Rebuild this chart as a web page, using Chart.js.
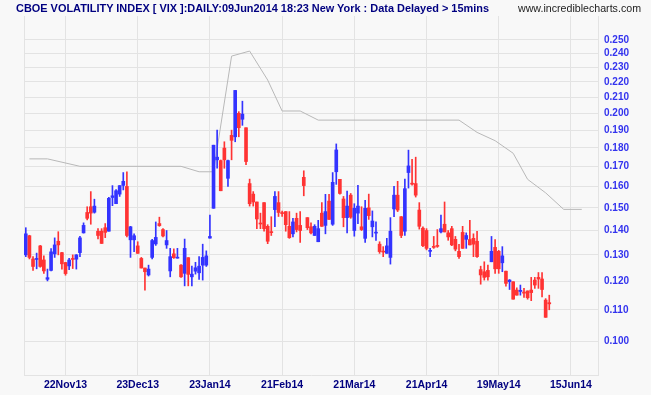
<!DOCTYPE html>
<html><head><meta charset="utf-8">
<script src="https://cdn.jsdelivr.net/npm/chart.js@4.4.1/dist/chart.umd.min.js"></script>
<style>
html,body{margin:0;padding:0;background:#f8f8f8;}
#wrap{position:relative;width:651px;height:395px;overflow:hidden;background:#f8f8f8;}
canvas{position:absolute;left:0;top:0;}
.t{position:absolute;white-space:nowrap;font-family:"Liberation Sans",Arial,sans-serif;font-size:11px;line-height:11px;transform-origin:0 0;}
#title{left:16px;top:3px;font-weight:bold;color:#000080;}
#site{left:518px;top:3px;color:#222;}
</style></head><body>
<div id="wrap"><canvas id="c" width="651" height="395"></canvas>
<div id="title" class="t">CBOE VOLATILITY INDEX [ VIX ]:DAILY:09Jun2014 18:23 New York : Data Delayed &gt; 15mins</div>
<div id="site" class="t">www.incrediblecharts.com</div></div>
<script>
// ---- data (VIX / 100, daily, 07Nov2013 .. 09Jun2014) ----
const open = [
.1300,.1378,.1284,.1282,.1336,.1280,.1207,.1240,.1304,.1355,
.1309,.1270,.1257,.1286,.1283,.1309,.1390,.1479,.1505,.1480,
.1397,.1397,.1412,.1397,.1548,.1519,.1564,.1606,.1601,.1361,
.1361,.1336,.1286,.1249,.1223,.1290,.1344,.1430,.1404,.1340,
.1238,.1304,.1287,.1260,.1229,.1289,.1216,.1237,.1231,.1260,
.1260,.1368,.1498,.1736,.1732,.1799,.1641,.1870,.1862,.2000,
.1964,.1914,.1615,.1564,.1527,.1432,.1524,.1418,.1395,.1492,
.1524,.1478,.1483,.1418,.1386,.1453,.1422,.1646,.1456,.1416,
.1379,.1353,.1476,.1422,.1531,.1427,.1674,.1636,.1541,.1456,
.1559,.1400,.1476,.1416,.1367,.1500,.1416,.1389,.1343,.1315,
.1306,.1290,.1495,.1559,.1460,.1397,.1670,.1616,.1615,.1490,
.1410,.1400,.1314,.1334,.1338,.1394,.1427,.1390,.1408,.1363,
.1314,.1392,.1363,.1362,.1367,.1355,.1243,.1235,.1240,.1273,
.1330,.1314,.1269,.1237,.1198,.1198,.1168,.1163,.1161,.1165,
.1168,.1204,.1214,.1208,.1133,.1124];
const high = [
.1412,.1380,.1293,.1307,.1338,.1296,.1245,.1325,.1369,.1395,
.1310,.1271,.1286,.1300,.1301,.1375,.1433,.1505,.1576,.1540,
.1408,.1408,.1430,.1549,.1605,.1586,.1605,.1670,.1674,.1418,
.1386,.1353,.1290,.1249,.1260,.1363,.1437,.1458,.1408,.1400,
.1326,.1324,.1326,.1262,.1364,.1289,.1256,.1271,.1293,.1343,
.1316,.1467,.1815,.1901,.1735,.1834,.1735,.1900,.2144,.2010,
.2075,.1914,.1637,.1576,.1527,.1476,.1524,.1425,.1460,.1576,
.1576,.1485,.1483,.1483,.1453,.1476,.1483,.1679,.1456,.1433,
.1425,.1444,.1524,.1563,.1563,.1670,.1822,.1636,.1553,.1579,
.1567,.1519,.1606,.1505,.1535,.1564,.1486,.1437,.1353,.1333,
.1367,.1456,.1601,.1626,.1461,.1637,.1788,.1739,.1750,.1524,
.1416,.1408,.1326,.1375,.1404,.1467,.1527,.1400,.1418,.1375,
.1342,.1418,.1390,.1444,.1386,.1397,.1256,.1273,.1260,.1375,
.1362,.1318,.1333,.1237,.1206,.1198,.1176,.1186,.1174,.1165,
.1214,.1214,.1232,.1232,.1138,.1150];
const low = [
.1293,.1284,.1240,.1246,.1252,.1229,.1201,.1238,.1290,.1300,
.1245,.1222,.1243,.1247,.1245,.1293,.1389,.1446,.1427,.1476,
.1365,.1346,.1370,.1397,.1510,.1519,.1553,.1584,.1373,.1290,
.1313,.1306,.1249,.1168,.1219,.1284,.1338,.1418,.1373,.1326,
.1216,.1286,.1287,.1214,.1183,.1183,.1183,.1226,.1206,.1204,
.1255,.1368,.1498,.1692,.1580,.1692,.1601,.1736,.1834,.1862,
.1928,.1710,.1508,.1508,.1408,.1408,.1397,.1345,.1379,.1416,
.1461,.1461,.1397,.1367,.1373,.1394,.1350,.1556,.1404,.1386,
.1379,.1353,.1418,.1386,.1448,.1422,.1611,.1564,.1416,.1390,
.1453,.1376,.1430,.1400,.1350,.1448,.1373,.1358,.1306,.1293,
.1306,.1264,.1460,.1483,.1370,.1379,.1593,.1607,.1550,.1406,
.1333,.1320,.1293,.1326,.1330,.1390,.1394,.1359,.1337,.1316,
.1286,.1326,.1326,.1340,.1293,.1290,.1189,.1204,.1204,.1273,
.1229,.1229,.1235,.1182,.1170,.1136,.1150,.1150,.1142,.1136,
.1131,.1174,.1174,.1144,.1075,.1100];
const close = [
.1386,.1290,.1255,.1286,.1255,.1238,.1213,.1312,.1340,.1340,
.1265,.1228,.1280,.1282,.1300,.1369,.1422,.1453,.1476,.1508,
.1379,.1346,.1392,.1544,.1556,.1580,.1605,.1626,.1379,.1416,
.1378,.1306,.1249,.1235,.1245,.1358,.1371,.1421,.1377,.1358,
.1293,.1289,.1290,.1216,.1326,.1225,.1226,.1250,.1256,.1290,
.1296,.1375,.1815,.1750,.1580,.1736,.1732,.1842,.2144,.1914,
.1995,.1727,.1519,.1527,.1450,.1428,.1408,.1355,.1391,.1553,
.1479,.1474,.1425,.1370,.1437,.1404,.1400,.1605,.1412,.1390,
.1418,.1408,.1418,.1483,.1448,.1621,.1789,.1567,.1456,.1508,
.1458,.1498,.1508,.1404,.1498,.1465,.1441,.1392,.1313,.1311,
.1336,.1397,.1559,.1490,.1379,.1590,.1704,.1612,.1559,.1418,
.1337,.1326,.1318,.1330,.1334,.1408,.1394,.1373,.1340,.1323,
.1293,.1326,.1379,.1340,.1343,.1293,.1223,.1214,.1216,.1314,
.1246,.1246,.1296,.1192,.1204,.1136,.1150,.1167,.1157,.1141,
.1159,.1186,.1208,.1170,.1075,.1120];

// grey reference (stop) line: corner points as [bar slot, value]
const stopSlot  = [1, 6, 15, 43, 48, 52, 57, 62, 67, 71, 76, 81, 120, 125, 130, 135, 139, 144, 149, 154];
const stopValue = [.1741,.1741,.1702,.1702,.1674,.1674,.2380,.2417,.2213,.2014,.2014,.1959,.1959,.1887,.1840,.1771,.1636,.1570,.1493,.1493];

const slotCount   = 159;   // trading-day slots shown on the axis (data + projection)
const xTickSlot   = [11, 31, 51, 71, 91, 111, 131, 151];
const xTickLabels = ['22Nov13','23Dec13','23Jan14','21Feb14','21Mar14','21Apr14','19May14','15Jun14'];
const yTickValues = [0.100,0.110,0.120,0.130,0.140,0.150,0.160,0.170,0.180,0.190,0.200,0.210,0.220,0.230,0.240,0.250];

// ---- build ----
const labels = Array.from({length: slotCount}, (_, i) => {
  const k = xTickSlot.indexOf(i); return k >= 0 ? xTickLabels[k] : '';
});
const stopLine = new Array(slotCount).fill(null);
stopSlot.forEach((s, k) => { stopLine[s] = stopValue[k]; });
const UP = '#3333ff', DOWN = '#ff3333';
const colors = close.map((c, i) => c >= open[i] ? UP : DOWN);
const GRID = '#e3e3e3';

const frame = {
  id: 'frame',
  beforeDatasetsDraw(chart) {
    const a = chart.chartArea, ctx = chart.ctx;
    ctx.save(); ctx.strokeStyle = GRID; ctx.lineWidth = 1;
    ctx.beginPath(); ctx.moveTo(Math.round(a.left) + 0.5, a.top); ctx.lineTo(Math.round(a.left) + 0.5, a.bottom); ctx.stroke();
    ctx.restore();
  }
};

new Chart(document.getElementById('c'), {
  type: 'bar',
  data: {
    labels,
    datasets: [
      { type: 'line', data: stopLine, borderColor: '#b8b8b8', borderWidth: 1, pointRadius: 0, spanGaps: true, tension: 0, order: 3 },
      { type: 'bar', data: low.map((l, i) => [l, high[i]]), backgroundColor: colors, barThickness: 1, grouped: false, order: 2 },
      { type: 'bar', data: open.map((o, i) => [o, close[i]]), backgroundColor: colors, barThickness: 3, minBarLength: 1, grouped: false, order: 1 }
    ]
  },
  options: {
    responsive: false, animation: false, devicePixelRatio: 1,
    layout: { padding: { left: 24, top: 16, right: 0, bottom: 0 } },
    plugins: { legend: { display: false }, tooltip: { enabled: false } },
    scales: {
      x: {
        type: 'category', offset: true,
        grid: { offset: false, color: GRID, drawTicks: false },
        border: { color: GRID },
        ticks: { autoSkip: false, maxRotation: 0, minRotation: 0, padding: 4, color: '#000080',
                 font: { family: 'Liberation Sans', weight: 'bold', size: 10.5 } },
        afterBuildTicks: s => { s.ticks = s.ticks.filter(t => labels[t.value]); },
        afterFit: s => { s.height = 20; }
      },
      y: {
        type: 'logarithmic', position: 'right', min: 0.0902, max: 0.2689,
        grid: { color: GRID, drawTicks: false },
        border: { color: GRID },
        ticks: { autoSkip: false, padding: 6, color: '#3333ee',
                 font: { family: 'Liberation Sans', weight: 'bold', size: 10 },
                 callback: v => Number(v).toFixed(3) },
        afterBuildTicks: s => { s.ticks = yTickValues.map(v => ({ value: v })); },
        afterFit: s => { s.width = 53; }
      }
    }
  },
  plugins: [frame]
});

function fit(id, w) {
  const el = document.getElementById(id);
  const r = el.getBoundingClientRect().width;
  el.style.transform = 'scaleX(' + (w / r) + ')';
}
fit('title', 473); fit('site', 123);
</script>
</body></html>
